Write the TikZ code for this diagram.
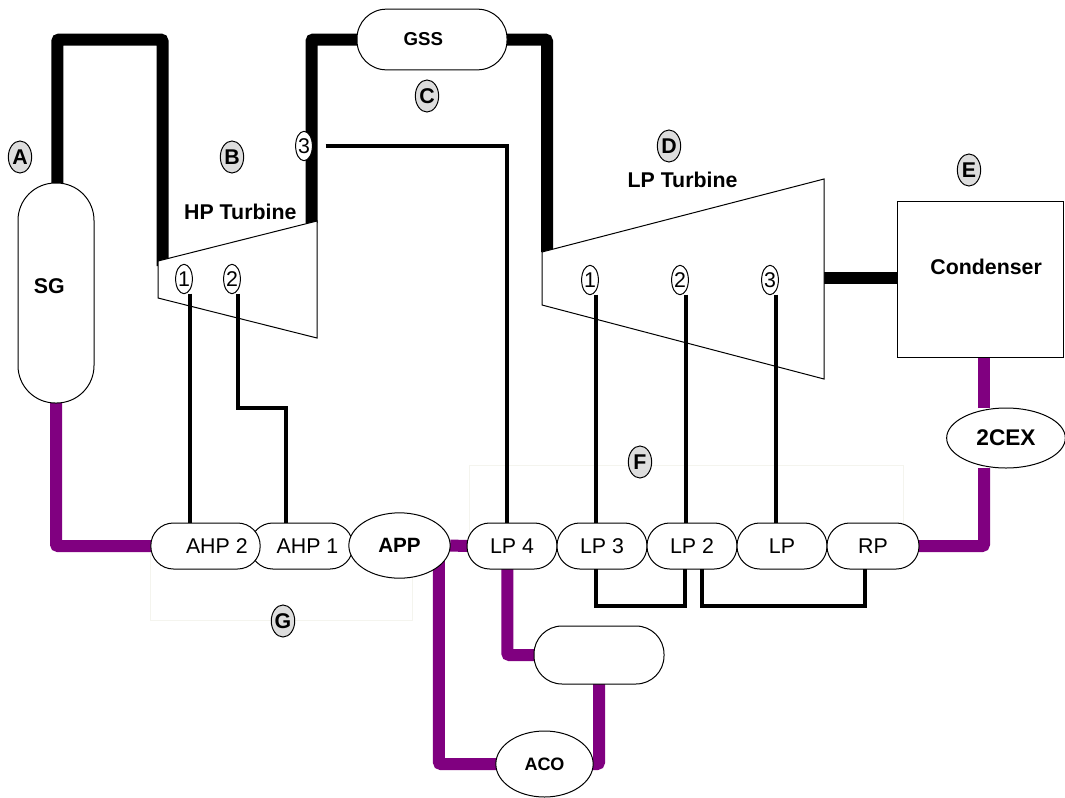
\documentclass[tikz,border=0pt]{standalone}
\usepackage{xcolor}
\usepackage{fontspec}
\setmainfont{Liberation Sans}
\usetikzlibrary{positioning,shapes.geometric,backgrounds}
\definecolor{feedpurple}{RGB}{128,0,128}
\definecolor{tagfill}{RGB}{221,221,221}
\definecolor{faintline}{RGB}{244,244,238}
\tikzset{
  unit/.style={draw, fill=white, line width=0.75pt, inner sep=0pt, outer sep=0pt, align=center},
  heater/.style={unit, rectangle, rounded corners=17pt, minimum width=67.5pt, minimum height=34.5pt,
                 font=\fontsize{16}{18}\selectfont},
  drum/.style={unit, rectangle, font=\fontsize{16}{18}\selectfont\bfseries},
  pump/.style={unit, ellipse, font=\fontsize{15.5}{18}\selectfont\bfseries},
  tap/.style={unit, ellipse, minimum width=12.5pt, minimum height=22pt, font=\fontsize{16}{18}\selectfont},
  tag/.style={unit, ellipse, fill=tagfill, minimum width=17.5pt, minimum height=24pt,
              font=\fontsize{16}{18}\selectfont\bfseries},
  title/.style={fill=white, inner sep=1pt, font=\fontsize{16}{18}\selectfont\bfseries},
  steam/.style={line width=9pt, rounded corners=1.5pt},
  bleed/.style={line width=3pt},
  feed/.style={line width=9pt, feedpurple, rounded corners=1.5pt},
  faint/.style={draw=faintline, line width=0.5pt},
  casing/.style={draw, line width=0.75pt, fill=white}
}
\begin{document}
\begin{tikzpicture}[x=0.75pt, y=-0.75pt]
    \useasboundingbox (0,0) rectangle (1065,797);
    % turbines
    \draw[casing] (158,261) -- (317,221) -- (317,338) -- (158,298) -- cycle;
    \draw[casing] (542,252) -- (824,179) -- (824,379) -- (542,305) -- cycle;
    \coordinate (hpin) at (162.5,266);
    \coordinate (hpout) at (311.5,223);
    \coordinate (lpin) at (547,252);
    \coordinate (lpout) at (824,278);
    \node[title, anchor=east] (hptitle) at (298,212) {HP Turbine};
    \node[title, anchor=east] (lptitle) at (739,180) {LP Turbine};
    % vessels
    \node[drum, rounded corners=28pt, minimum width=57pt, minimum height=165pt,
          label={[font=\fontsize{16}{18}\selectfont\bfseries]center:\hspace{-10pt}\raisebox{10.5pt}{SG}}] (sg) at (56,293) {};
    \node[drum, rounded corners=22pt, minimum width=112.5pt, minimum height=45.5pt,
          label={[font=\fontsize{14}{16}\selectfont\bfseries]center:\hspace{-13pt}GSS}] (gss) at (432,39.5) {};
    \node[drum, minimum width=125pt, minimum height=117pt,
          label={[font=\fontsize{16}{18}\selectfont\bfseries]center:\hspace{8.5pt}\raisebox{18pt}{Condenser}}] (cond) at (980.5,279) {};
    \node[pump, minimum width=89pt, minimum height=45pt, font=\fontsize{17}{18}\selectfont\bfseries] (cex) at (1006,438) {2CEX};
    % heater row
    \node[heater, minimum width=77pt, label={[font=\fontsize{16}{18}\selectfont]center:\hspace{9pt}AHP 1}] (ahpone) at (301.5,546) {};
    \node[heater, minimum width=82pt, label={[font=\fontsize{16}{18}\selectfont]center:\hspace{17pt}AHP 2}] (ahptwo) at (205.5,546) {};
    \node[pump, minimum width=76pt, minimum height=49pt] (app) at (399.5,545.5) {APP};
    \node[heater] (lpfour) at (512,546) {LP 4};
    \node[heater, right=0pt of lpfour] (lpthree) {LP 3};
    \node[heater, right=0pt of lpthree] (lptwo) {LP 2};
    \node[heater, right=0pt of lptwo] (lpone) {LP};
    \node[heater, minimum width=69pt, right=0pt of lpone] (rp) {RP};
    \node[drum, rounded corners=21pt, minimum width=97.5pt, minimum height=43.5pt] (tank) at (599,655) {};
    \node[pump, minimum width=73pt, minimum height=49.5pt, font=\fontsize{13.5}{16}\selectfont\bfseries] (aco) at (544.5,764) {ACO};
    % extraction points
    \node[tap] (hpa) at (184,279) {1};
    \node[tap] (hpb) at (232,279) {2};
    \node[tap] (hpc) at (304,146) {3};
    \node[tap] (lpa) at (590,280) {1};
    \node[tap] (lpb) at (680,280) {2};
    \node[tap] (lpc) at (770,280) {3};
    % tags
    \node[tag] (taga) at (20,157) {A};
    \node[tag] (tagb) at (232,157) {B};
    \node[tag] (tagc) at (427,96) {C};
    \node[tag] (tagd) at (669,146) {D};
    \node[tag] (tage) at (969,170) {E};
    \node[tag] (tagf) at (640,462) {F};
    \node[tag] (tagg) at (283,621) {G};
    \begin{scope}[on background layer]
      \draw[faint] (150,540) rectangle (412,620);
      \draw[faint] (469,540) rectangle (903,465);
      % main steam
      \draw[steam] ([xshift=1pt]sg.north) -- ([xshift=1pt]sg.north |- gss.west) -| (hpin);
      \draw[steam] (hpout) |- (gss.west);
      \draw[steam] (gss.east) -| (lpin);
      \draw[steam] (lpout) -- (lpout -| cond.west);
      % feed water
      \draw[feed] (sg.south) |- (ahptwo.west);
      \draw[feed] (app.east) -- (lpfour.west);
      \draw[feed] ([xshift=29.6pt]app.center) |- (aco.west);
      \draw[feed] ([xshift=-3.5pt]lpfour.south) |- (tank.west);
      \draw[feed] (tank.south) |- (aco.east);
      \draw[feed] (rp.east) -| ([xshift=-16.5pt]cex.south);
      \draw[feed] ([xshift=-16.5pt]cex.north) -- ([xshift=-16.5pt]cex.north |- cond.south);
    \end{scope}
    % bleed lines
    \draw[bleed] ([xshift=4.5pt]hpa.south) -- ([xshift=4.5pt]hpa.south |- ahptwo.north);
    \draw[bleed] ([xshift=4.5pt]hpb.south) |- (286,408) -- (286,408 |- ahpone.north);
    \draw[bleed] ([xshift=10pt]hpc.east) -| (lpfour.north -| 507,0);
    \draw[bleed] ([xshift=4.5pt]lpa.south) -- ([xshift=4.5pt]lpa.south |- lpthree.north);
    \draw[bleed] ([xshift=4.5pt]lpb.south) -- ([xshift=4.5pt]lpb.south |- lptwo.north);
    \draw[bleed] ([xshift=4.5pt]lpc.south) -- ([xshift=4.5pt]lpc.south |- lpone.north);
    \draw[bleed] (lpthree.south -| 596,0) |- (685,606) -- (lptwo.south -| 685,0);
    \draw[bleed] (lptwo.south -| 702,0) |- (865,606) -- (rp.south -| 865,0);
  \end{tikzpicture}
\end{document}
